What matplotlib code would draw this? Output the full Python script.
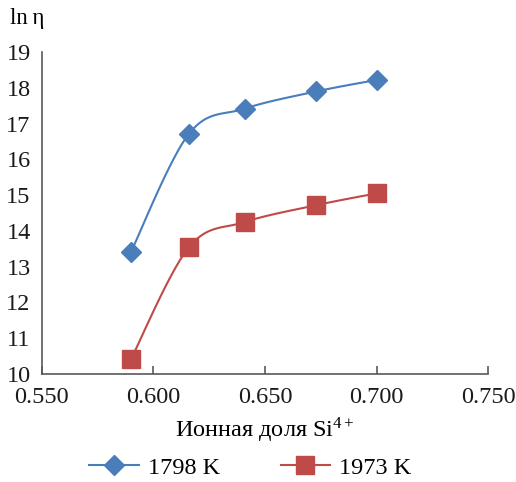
import numpy as np
import matplotlib
matplotlib.use("Agg")
import matplotlib.pyplot as plt

# data
x_si = [0.590, 0.616, 0.641, 0.673, 0.700]
ln_eta_1798 = [13.42, 16.72, 17.42, 17.90, 18.22]
ln_eta_1973 = [10.42, 13.55, 14.25, 14.72, 15.05]
labels = ["1798 K", "1973 K"]
x_ticks = [0.550, 0.600, 0.650, 0.700, 0.750]
y_ticks = list(range(10, 20))


def smooth(x, y, n=30):
    # Excel-style smoothed line: cubic bezier with catmull-rom control points
    x = np.asarray(x, float)
    y = np.asarray(y, float)
    px, py = [], []
    for i in range(len(x) - 1):
        i0 = max(i - 1, 0)
        i3 = min(i + 2, len(x) - 1)
        c1x = x[i] + (x[i + 1] - x[i0]) / 6
        c1y = y[i] + (y[i + 1] - y[i0]) / 6
        c2x = x[i + 1] - (x[i3] - x[i]) / 6
        c2y = y[i + 1] - (y[i3] - y[i]) / 6
        t = np.linspace(0, 1, n)
        px.extend((1-t)**3*x[i] + 3*(1-t)**2*t*c1x + 3*(1-t)*t**2*c2x + t**3*x[i+1])
        py.extend((1-t)**3*y[i] + 3*(1-t)**2*t*c1y + 3*(1-t)*t**2*c2y + t**3*y[i+1])
    return px, py


plt.rcParams['font.family'] = ['Liberation Serif', 'DejaVu Serif']
plt.rcParams['mathtext.fontset'] = 'stix'

fig = plt.figure(figsize=(5.16, 4.82), dpi=100)
ax = fig.add_axes([0.081, 0.224, 0.865, 0.668])

blue = '#4A7EBB'
red = '#BE4B48'
fs = 17.5

sx, sy = smooth(x_si, ln_eta_1798)
ax.plot(sx, sy, color=blue, lw=1.5)
ax.plot(x_si, ln_eta_1798, ls='none', marker='D', ms=10, color=blue, mec=blue)
sx, sy = smooth(x_si, ln_eta_1973)
ax.plot(sx, sy, color=red, lw=1.5)
ax.plot(x_si, ln_eta_1973, ls='none', marker='s', ms=13, color=red, mec=red)

ax.set_xlim(0.55, 0.75)
ax.set_ylim(10, 19)
ax.set_xticks(x_ticks)
ax.set_xticklabels(["%.3f" % v for v in x_ticks])
ax.set_yticks(y_ticks)
ax.spines['top'].set_visible(False)
ax.spines['right'].set_visible(False)
for s in ['left', 'bottom']:
    ax.spines[s].set_color('#595959')
    ax.spines[s].set_linewidth(1.2)
ax.tick_params(axis='x', direction='in', length=6, width=1.2, color='#595959',
               labelsize=fs, pad=9)
ax.tick_params(axis='y', length=0, labelsize=fs, pad=8)
for lab in ax.get_xticklabels() + ax.get_yticklabels():
    lab.set_color('#1a1a1a')

ax.set_xlabel("Ионная доля Si$^{\\mathregular{4+}}$", fontsize=fs, labelpad=6)
fig.text(0.02, 0.962, "ln\u2009η", fontsize=fs - 1, va='center', ha='left')

h1 = plt.Line2D([], [], color=blue, lw=1.5, marker='D', ms=10)
h2 = plt.Line2D([], [], color=red, lw=1.5, marker='s', ms=13)
fig.legend([h1, h2], labels, loc='center', bbox_to_anchor=(0.485, 0.03), ncol=2,
           frameon=False, fontsize=fs, handlelength=2.05, columnspacing=2.5,
           handletextpad=0.35)

fig.savefig("out.png", dpi=100)
